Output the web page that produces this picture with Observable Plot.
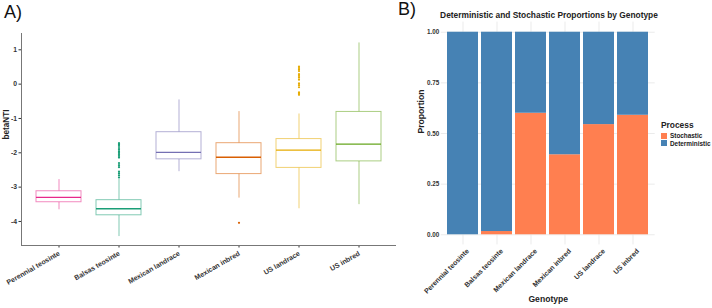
<!DOCTYPE html>
<html>
<head>
<meta charset="utf-8">
<script src="https://cdn.jsdelivr.net/npm/d3@7"></script>
<script src="https://cdn.jsdelivr.net/npm/@observablehq/plot@0.6"></script>
<style>
  html, body { margin: 0; padding: 0; background: #fff; }
  #wrap { position: relative; width: 712px; height: 308px; font-family: "Liberation Sans", Arial, sans-serif; overflow: hidden; }
  .panel { position: absolute; top: 0; }
  .tag { position: absolute; font-size: 18px; color: #111; }
  .title { position: absolute; font-size: 8.4px; font-weight: bold; color: #222; white-space: nowrap; transform: translateX(-50%); }
  .legend { position: absolute; left: 661px; top: 120px; font-weight: bold; color: #222; }
  .legend .head { font-size: 8.4px; margin-bottom: 2px; }
  .legend .row { display: flex; align-items: center; font-size: 6.4px; height: 7.5px; }
  .legend .sw { width: 6px; height: 6px; margin-right: 3px; }
</style>
</head>
<body>
<div id="wrap">
  <div id="panelA" class="panel" style="left:0"></div>
  <div id="panelB" class="panel" style="left:360px"></div>
  <div class="tag" style="left:4px;top:2px">A)</div>
  <div class="tag" style="left:398px;top:-1px">B)</div>
  <div class="title" style="left:549px;top:9.5px">Deterministic and Stochastic Proportions by Genotype</div>
  <div class="legend" id="legend"></div>
</div>
<script>
// Genotype groups, in display order
const genotypes = ["Perennial teosinte", "Balsas teosinte", "Mexican landrace", "Mexican inbred", "US landrace", "US inbred"];
const genotypeColors = ["#E7298A", "#1B9E77", "#7570B3", "#D95F02", "#E6AB02", "#66A61E"];

// betaNTI box summaries per genotype
const whiskerLow  = [-3.66, -4.44, -2.55, -3.32, -3.63, -3.51];
const quartile1   = [-3.44, -3.82, -2.19, -2.62, -2.44, -2.25];
const medians     = [-3.30, -3.63, -1.99, -2.13, -1.92, -1.75];
const quartile3   = [-3.12, -3.38, -1.40, -1.72, -1.60, -0.81];
const whiskerHigh = [-2.78, -2.77, -0.46, -0.80, -0.87, 1.20];

// betaNTI outliers
const balsasOutliers = [-1.72, -1.76, -1.80, -1.86, -1.91, -1.96, -2.00, -2.04, -2.09, -2.14, -2.30, -2.36, -2.42, -2.55, -2.60, -2.66, -2.72];
const mexicanInbredOutliers = [-4.04];
const usLandraceOutliers = [0.51, 0.47, 0.43, 0.38, 0.29, 0.24, 0.19, 0.13, 0.02, -0.03, -0.09, -0.24, -0.28, -0.31];

// Stochastic / deterministic proportions per genotype
const processes = ["Stochastic", "Deterministic"];
const processColors = ["#FF7F50", "#4682B4"];
const stochastic    = [0.000, 0.016, 0.600, 0.395, 0.544, 0.590];
const deterministic = [1.000, 0.984, 0.400, 0.605, 0.456, 0.410];

const betaTicks = [-4, -3, -2, -1, 0, 1];
const propTicks = [0, 0.25, 0.5, 0.75, 1];

const boxes = genotypes.map((g, i) => ({
  genotype: g, lo: whiskerLow[i], q1: quartile1[i], median: medians[i], q3: quartile3[i], hi: whiskerHigh[i]
}));
const outliers = [
  ...balsasOutliers.map(v => ({genotype: "Balsas teosinte", value: v})),
  ...mexicanInbredOutliers.map(v => ({genotype: "Mexican inbred", value: v})),
  ...usLandraceOutliers.map(v => ({genotype: "US landrace", value: v}))
];

const font = {fontFamily: "Liberation Sans, Arial, sans-serif", fontSize: "7px", fontWeight: "bold", background: "transparent", color: "#333"};

const yDomainA = [-4.70, 1.475];
const chartA = Plot.plot({
  width: 400, height: 308,
  marginLeft: 21, marginRight: 4, marginTop: 33, marginBottom: 63,
  style: font,
  x: {type: "band", domain: genotypes, paddingInner: 0.25, paddingOuter: 0.225},
  y: {domain: yDomainA},
  color: {domain: genotypes, range: genotypeColors},
  marks: [
    Plot.axisY({ticks: betaTicks, tickFormat: d => d < 0 ? "-" + Math.abs(d) : String(d), tickSize: 2.5, tickPadding: 2,
      label: null, fontSize: 6.8, stroke: "#333"}),
    Plot.text(["betaNTI"], {frameAnchor: "left", dx: -15, rotate: -90, fontSize: 8.2, fontWeight: "bold", fill: "#222"}),
    Plot.axisX({tickSize: 2.5, tickFormat: () => "", label: null, stroke: "#333"}),
    // slanted genotype labels, top-right corner at each tick
    Plot.text(genotypes, {x: d => d, frameAnchor: "bottom", dy: 5, dx: -1, rotate: -30, textAnchor: "end", lineAnchor: "top", fontSize: 7.0, fontWeight: "bold", fill: "#333"}),
    Plot.ruleX(boxes, {x: "genotype", y1: "lo", y2: "q1", stroke: "genotype", strokeOpacity: 0.55}),
    Plot.ruleX(boxes, {x: "genotype", y1: "q3", y2: "hi", stroke: "genotype", strokeOpacity: 0.55}),
    Plot.barY(boxes, {x: "genotype", y1: "q1", y2: "q3", fill: "white", stroke: "genotype", strokeOpacity: 0.55, strokeWidth: 1}),
    Plot.tickY(boxes, {x: "genotype", y: "median", stroke: "genotype", strokeWidth: 1.3}),
    Plot.dot(outliers, {x: "genotype", y: "value", fill: "genotype", r: 1.1}),
    Plot.ruleY([yDomainA[0]], {stroke: "#777", strokeWidth: 1}),
    Plot.frame({anchor: "left", stroke: "#777", strokeWidth: 1})
  ]
});
document.getElementById("panelA").append(chartA);

const proportions = [
  ...genotypes.map((g, i) => ({genotype: g, process: "Stochastic", proportion: stochastic[i]})),
  ...genotypes.map((g, i) => ({genotype: g, process: "Deterministic", proportion: deterministic[i]}))
];

const chartB = Plot.plot({
  width: 352, height: 308,
  marginLeft: 80.8, marginRight: 57.3, marginTop: 21.6, marginBottom: 63.6,
  style: font,
  x: {type: "band", domain: genotypes, paddingInner: 0.1, paddingOuter: 0.15, axis: null},
  y: {domain: [-0.05, 1.05], axis: null},
  color: {domain: processes, range: processColors},
  marks: [
    Plot.gridY(propTicks, {stroke: "#ebebeb", strokeOpacity: 1}),
    Plot.gridX(genotypes, {stroke: "#ebebeb", strokeOpacity: 1}),
    Plot.barY(proportions, {x: "genotype", y: "proportion", fill: "process", order: processes}),
    Plot.axisY({ticks: propTicks, tickFormat: d3.format(".2f"), tickSize: 0, tickPadding: 2, label: null, fontSize: 6.3}),
    Plot.text(["Proportion"], {frameAnchor: "left", dx: -20, rotate: -90, fontSize: 8.6, fontWeight: "bold", fill: "#222"}),
    Plot.text(genotypes, {x: d => d, frameAnchor: "bottom", dy: 3, dx: 3, rotate: -45, textAnchor: "end", lineAnchor: "top", fontSize: 7.0, fontWeight: "bold", fill: "#333"}),
    Plot.text(["Genotype"], {frameAnchor: "bottom", dy: 57, fontSize: 8.6, fontWeight: "bold", fill: "#222"})
  ]
});
document.getElementById("panelB").append(chartB);

// Fill legend for the process scale
const legend = document.getElementById("legend");
legend.innerHTML = '<div class="head">Process</div>' + processes.map((p, i) =>
  `<div class="row"><span class="sw" style="background:${processColors[i]}"></span>${p}</div>`).join("");
</script>
</body>
</html>
